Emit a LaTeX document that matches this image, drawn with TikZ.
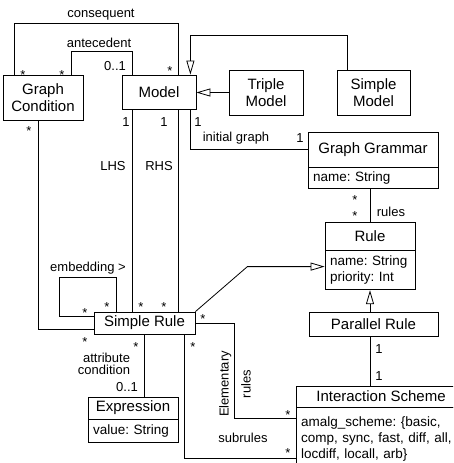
\documentclass[tikz,border=0pt]{standalone}
\usepackage{fontspec}
\setmainfont{Liberation Sans}
\usetikzlibrary{arrows.meta}
\frenchspacing

\begin{document}
\begin{tikzpicture}[x=1pt,y=-1pt,line width=.8pt,
  cls/.style={draw,inner sep=2pt,align=center,font=\fontsize{15}{17}\selectfont},
  att/.style={draw,inner xsep=5pt,inner ysep=2pt,align=left,font=\fontsize{13.5}{16}\selectfont},
  lbl/.style={inner sep=0pt,font=\fontsize{13}{15}\selectfont},
  gen/.style={-{Triangle[open,length=14pt,width=8pt]}}]
\useasboundingbox (0,0) rectangle (453,463);
\clip (0,0) rectangle (453,463);
% classes
\node[cls,minimum width=80pt,minimum height=45pt] (gc) at (43,97.5) {Graph\\Condition};
\node[cls,minimum width=74pt,minimum height=34pt] (model) at (159,92) {Model};
\node[cls,minimum width=74pt,minimum height=45pt] (triple) at (266,92.5) {Triple\\Model};
\node[cls,minimum width=73pt,minimum height=45pt] (smodel) at (373.5,92.5) {Simple\\Model};
\node[cls,minimum width=130pt,minimum height=35pt] (gg) at (373,149.5) {Graph Grammar};
\node[att,text width=120pt,minimum height=21pt,anchor=north] (gg-att) at (gg.south) {name: String};
\node[cls,minimum width=90pt,minimum height=28pt] (rule) at (370,236) {Rule};
\node[att,text width=80pt,minimum height=39pt,anchor=north] (rule-att) at (rule.south) {name: String\\priority: Int};
\node[cls,minimum width=129pt,minimum height=24pt] (prule) at (373.5,324) {Parallel Rule};
\node[cls,minimum width=170pt,minimum height=21pt] (is) at (381,396.5) {Interaction Scheme};
\node[att,text width=160pt,minimum height=62pt,anchor=north] (is-att) at (is.south) {amalg\_scheme: \{basic,\\comp, sync, fast, diff, all,\\locdiff, locall, arb\}};
\node[cls,minimum width=101pt,minimum height=22pt] (sr) at (144.5,323) {Simple Rule};
\node[cls,minimum width=90pt,minimum height=22pt] (expr) at (133,408) {Expression};
\node[att,text width=80pt,minimum height=23pt,anchor=north] (expr-att) at (expr.south) {value: String};
% associations
\draw ([xshift=12pt]gc.north west) -- ++(0,-51) -| ([xshift=-18pt]model.north east);
\draw ([xshift=-12pt]gc.north east) -- ++(0,-23) -| ([xshift=11pt]model.north west);
\draw ([xshift=11pt]model.south west) -- ([xshift=39pt]sr.north west);
\draw ([xshift=-18pt]model.south east) -- ([xshift=-17pt]sr.north east);
\draw ([xshift=-6pt]model.south east) |- (gg.west);
\draw (rule.north |- gg-att.south) -- (rule.north);
\draw (prule.south -| rule.south) -- (is.north -| rule.south);
\draw (sr.east) -- ++(39,0) |- ([yshift=-11pt]is-att.north west);
\draw ([xshift=-11pt]sr.south east) |- ([yshift=-51pt]is-att.north west);
\draw (sr.south) -- (sr.south |- expr.north);
\draw ([xshift=-5pt]gc.south) |- ([yshift=5pt]sr.south west);
\draw ([xshift=23pt]sr.north west) -- ++(0,-34) -- ++(-57,0) |- ([yshift=-5pt]sr.north west);
% generalizations
\draw[gen] ([xshift=11pt]smodel.north west) -- ++(0,-34) -| ([xshift=-6pt]model.north east);
\draw[gen] (triple.west) -- (triple.west -| model.east);
\draw[gen] (sr.north east) -- ++(52,-45) coordinate (bend) -- (bend -| rule-att.west);
\draw[gen] (prule.north -| rule.south) -- (rule-att.south);
% role names
\node[lbl] (l-cons) at (101,15) {consequent};
\node[lbl] (l-ante) at (99,43) {antecedent};
\node[lbl] (l-lhs) at (113,166) {LHS};
\node[lbl] (l-rhs) at (159,166) {RHS};
\node[lbl] (l-init) at (236,138) {initial graph};
\node[lbl] (l-rules) at (391,212) {rules};
\node[lbl] (l-emb) at (88,268) {embedding >};
\node[lbl,align=right,font=\fontsize{13}{12}\selectfont] (l-attc) at (104,364) {attribute\\condition};
\node[lbl,rotate=90,align=center] (l-elem) at (235,384) {Elementary\\[7pt]rules};
\node[lbl] (l-sub) at (243,438) {subrules};
% multiplicities
\node[lbl] (m-ante) at (115,66.5) {0..1};
\node[lbl] (m-lhs) at (126,122) {1};
\node[lbl] (m-rhs) at (164,122) {1};
\node[lbl] (m-init) at (198,122) {1};
\node[lbl] (m-gg) at (300,138) {1};
\node[lbl] (m-expr) at (127,387) {0..1};
\node[lbl] (m-pr) at (379,349) {1};
\node[lbl] (m-is) at (379,376) {1};
\foreach \n/\x/\y in {s1/23/72.5,s2/62/72.5,s3/170/68,s4/29/128,s5/85/310,s6/107/304,
  s7/141/304,s8/164/304,s9/203/316,s10/85/339,s11/136/344,s12/193/344,
  s13/355/197,s14/355/213,s15/288/412,s16/288/450}
  \node[lbl] (\n) at (\x,\y+3) {*};
\end{tikzpicture}
\end{document}
